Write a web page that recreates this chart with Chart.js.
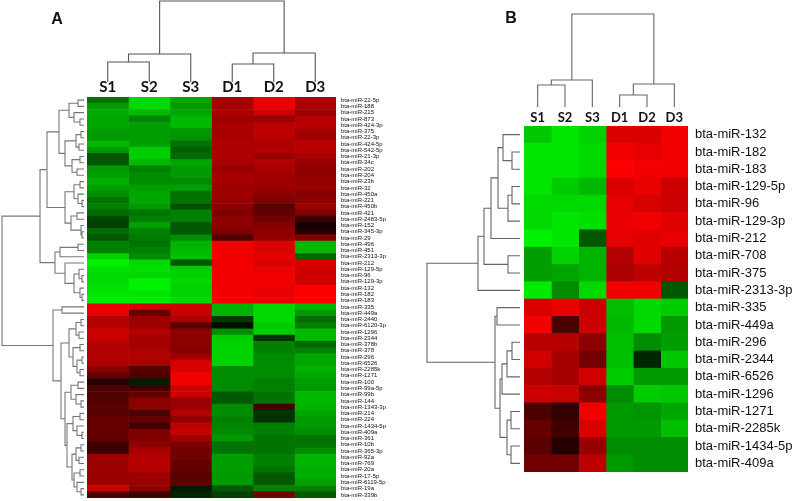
<!DOCTYPE html>
<html><head><meta charset="utf-8">
<script src="https://cdn.jsdelivr.net/npm/chart.js@4/dist/chart.umd.min.js"></script>
<style>
html,body{margin:0;padding:0;background:#fff;}
#wrap{position:relative;width:792px;height:501px;overflow:hidden;background:#fff;}
canvas{position:absolute;top:0;}
#ca{left:0;} #cb{left:400px;}
.pl{position:absolute;font:bold 16px "Liberation Sans",Arial,sans-serif;color:#111;transform:translate(-50%,-50%);}
</style></head><body>
<div id="wrap">
<canvas id="ca" width="400" height="501"></canvas>
<canvas id="cb" width="392" height="501"></canvas>
<div class="pl" style="left:57px;top:19px">A</div>
<div class="pl" style="left:511px;top:18px">B</div>
</div>
<script>
// ---------- DATA ----------
const samples = ['S1','S2','S3','D1','D2','D3'];

const rowsA = ['bta-miR-22-5p','bta-miR-188','bta-miR-215','bta-miR-873','bta-miR-424-3p','bta-miR-375','bta-miR-22-3p','bta-miR-424-5p','bta-miR-542-5p','bta-miR-21-3p',
'bta-miR-34c','bta-miR-202','bta-miR-204','bta-miR-23b','bta-miR-32','bta-miR-450a','bta-miR-221','bta-miR-450b','bta-miR-421','bta-miR-2483-5p',
'bta-miR-152','bta-miR-345-3p','bta-miR-29','bta-miR-496','bta-miR-451','bta-miR-2313-3p','bta-miR-212','bta-miR-129-5p','bta-miR-96','bta-miR-129-3p',
'bta-miR-132','bta-miR-182','bta-miR-183','bta-miR-335','bta-miR-449a','bta-miR-2440','bta-miR-6120-3p','bta-miR-1296','bta-miR-2344','bta-miR-378b',
'bta-miR-378','bta-miR-296','bta-miR-6526','bta-miR-2285k','bta-miR-1271','bta-miR-100','bta-miR-99a-5p','bta-miR-99b','bta-miR-144','bta-miR-1343-3p',
'bta-miR-214','bta-miR-224','bta-miR-1434-5p','bta-miR-409a','bta-miR-361','bta-miR-10b','bta-miR-365-3p','bta-miR-92a','bta-miR-769','bta-miR-20a',
'bta-miR-17-5p','bta-miR-6119-5p','bta-miR-19a','bta-miR-339b'];

// Panel A: scaled expression per sample (negative = green, positive = red)
const aS1 = [-0.45,-0.62,-0.68,-0.65,-0.65,-0.62,-0.6,-0.72,-0.6,-0.32,
 -0.35,-0.6,-0.62,-0.7,-0.62,-0.55,-0.45,-0.5,-0.42,-0.28,
 -0.25,-0.42,-0.35,-0.5,-0.5,-0.82,-0.95,-0.88,-0.85,-0.85,
 -0.88,-0.9,-0.92,0.92,0.92,0.7,0.72,0.78,0.78,0.7,
 0.7,0.7,0.68,0.55,0.4,0.15,0.3,0.3,0.32,0.35,
 0.35,0.4,0.4,0.4,0.4,0.25,0.25,0.62,0.6,0.62,
 0.6,0.62,0.8,0.3];
const aS2 = [-0.85,-0.85,-0.73,-0.52,-0.62,-0.62,-0.62,-0.62,-0.8,-0.8,
 -0.72,-0.5,-0.55,-0.55,-0.62,-0.65,-0.65,-0.6,-0.45,-0.5,
 -0.62,-0.5,-0.48,-0.45,-0.5,-0.55,-0.85,-0.88,-0.85,-0.95,
 -0.95,-0.9,-0.92,0.82,0.4,0.6,0.62,0.7,0.65,0.65,
 0.68,0.7,0.65,0.35,0.3,-0.12,0.25,0.4,0.55,0.55,
 0.3,0.4,0.25,0.5,0.5,0.55,0.65,0.7,0.72,0.7,
 0.62,0.6,0.55,0.25];
const aS3 = [-0.65,-0.6,-0.65,-0.72,-0.72,-0.6,-0.58,-0.45,-0.38,-0.42,
 -0.65,-0.6,-0.6,-0.55,-0.62,-0.45,-0.45,-0.32,-0.5,-0.5,
 -0.35,-0.35,-0.55,-0.7,-0.72,-0.75,-0.35,-0.8,-0.82,-0.85,
 -0.82,-0.82,-0.85,0.8,0.78,0.68,0.35,0.55,0.55,0.55,
 0.52,0.62,0.85,0.85,0.95,0.95,0.8,0.8,0.6,0.62,
 0.7,0.55,0.75,0.78,0.62,0.5,0.45,0.45,0.4,0.4,
 0.35,0.35,-0.1,-0.15];
const aD1 = [0.65,0.65,0.68,0.62,0.65,0.66,0.66,0.68,0.68,0.68,
 0.66,0.6,0.65,0.66,0.62,0.62,0.6,0.55,0.5,0.55,
 0.55,0.5,0.3,0.95,0.95,0.95,0.95,0.95,0.95,0.95,
 0.95,0.95,0.95,-0.7,-0.7,-0.22,-0.05,-0.55,-0.8,-0.82,
 -0.82,-0.82,-0.82,-0.55,-0.55,-0.55,-0.55,-0.35,-0.35,-0.55,
 -0.55,-0.5,-0.52,-0.55,-0.6,-0.45,-0.45,-0.62,-0.62,-0.62,
 -0.6,-0.6,-0.35,-0.25];
const aD2 = [0.92,0.92,0.8,0.6,0.72,0.75,0.72,0.68,0.7,0.6,
 0.7,0.66,0.62,0.62,0.6,0.55,0.5,0.35,0.38,0.45,
 0.52,0.55,0.58,0.85,0.85,0.9,0.85,0.92,0.95,0.95,
 0.92,0.9,0.92,-0.85,-0.85,-0.85,-0.8,-0.8,-0.2,-0.5,
 -0.5,-0.55,-0.55,-0.55,-0.55,-0.5,-0.5,-0.45,-0.45,0.25,
 -0.2,-0.2,-0.5,-0.5,-0.45,-0.45,-0.45,-0.5,-0.5,-0.45,
 -0.35,-0.35,-0.5,0.45];
const aD3 = [0.7,0.65,0.6,0.7,0.72,0.65,0.62,0.72,0.72,0.66,
 0.6,0.55,0.55,0.58,0.6,0.52,0.55,0.6,0.5,0.22,
 0.1,0.15,0.5,-0.72,-0.72,-0.4,0.85,0.82,0.8,0.82,
 0.98,0.98,0.98,-0.72,-0.6,-0.42,-0.5,-0.72,-0.72,-0.4,
 -0.5,-0.65,-0.65,-0.7,-0.65,-0.62,-0.6,-0.72,-0.72,-0.7,
 -0.65,-0.6,-0.6,-0.55,-0.45,-0.45,-0.55,-0.7,-0.7,-0.68,
 -0.68,-0.62,-0.5,-0.35];

// Panel A row dendrogram: [height, left, right], leaves = row index
const treeA1 = [25, [15, [6,0,1], [10, 2, [4,3,4]]], [19, [8,[3,5,6],[5,7,8]], [12,[4,9,10],[7,11,12]]]];
const treeA2 = [19, [10,[4,13,14],[6,15,[2,16,17]]], [13,[7,18,19],[3,20,[2,21,22]]]];
const treeAB = [29, [24,[6,23,24],25], [19, 26, [10,[5,27,[2,28,29]],[4,30,[2,31,32]]]]];
const treeAD1 = [22, 33, 34];
const treeAD2a = [15, [8,[3,35,36],[5,37,38]], [11,[4,39,40],[7,[2,41,42],[4,43,44]]]];
const treeAD2b = [19, [13,[6,45,46],[8,47,[3,48,49]]], [17,[11,[4,50,51],[7,52,[2,53,54]]],[12,[8,[3,55,56],[5,57,58]],[10,[4,59,60],[7,61,[3,62,63]]]]]];
const rowTreeA = [82, [44, [37, treeA1, treeA2], treeAB], [31, treeAD1, [23, treeAD2a, treeAD2b]]];
const colTreeA = [81, [28, [20, 0, 1], 2], [29, [18, 3, 4], 5]];

// Panel B
const rowsB = ['bta-miR-132','bta-miR-182','bta-miR-183','bta-miR-129-5p','bta-miR-96','bta-miR-129-3p','bta-miR-212','bta-miR-708','bta-miR-375','bta-miR-2313-3p',
'bta-miR-335','bta-miR-449a','bta-miR-296','bta-miR-2344','bta-miR-6526','bta-miR-1296','bta-miR-1271','bta-miR-2285k','bta-miR-1434-5p','bta-miR-409a'];
const bS1 = [-0.78,-0.9,-0.9,-0.9,-0.85,-0.85,-0.95,-0.62,-0.62,-0.92, 0.85,0.95,0.72,0.82,0.7,0.8,0.3,0.4,0.35,0.45];
const bS2 = [-0.9,-0.9,-0.9,-0.8,-0.85,-0.9,-0.9,-0.82,-0.65,-0.55, 0.92,0.3,0.72,0.65,0.65,0.78,0.2,0.25,0.15,0.45];
const bS3 = [-0.82,-0.85,-0.85,-0.72,-0.85,-0.88,-0.35,-0.7,-0.7,-0.85, 0.8,0.8,0.55,0.45,0.82,0.55,0.95,0.85,0.6,0.75];
const bD1 = [0.85,0.95,0.98,0.85,0.9,0.92,0.9,0.7,0.68,0.95, -0.75,-0.72,-0.75,-0.75,-0.8,-0.55,-0.6,-0.6,-0.55,-0.6];
const bD2 = [0.85,0.9,0.95,0.92,0.85,0.95,0.88,0.88,0.75,0.95, -0.85,-0.85,-0.55,-0.15,-0.6,-0.8,-0.58,-0.6,-0.55,-0.55];
const bD3 = [0.95,0.95,0.95,0.8,0.8,0.88,0.9,0.72,0.7,-0.35, -0.8,-0.6,-0.62,-0.78,-0.6,-0.78,-0.65,-0.75,-0.55,-0.55];

const treeBtop = [42, [36, [29, [22, [17, 0, [8,1,2]], [12, [8,3,4], 5]], 6], [12,7,8]], 9];
const treeBbot = [25, [23,10,11], [20, [18, [13, [8,12,13], 14], 15], [13, [9,16,17], [9,18,19]]]];
const rowTreeB = [93, treeBtop, treeBbot];
const colTreeB = [93, [27, [22, 0, 1], 2], [23, [12, 3, 4], 5]];

// ---------- RENDER ----------
function heat(v){
  return v >= 0 ? 'rgb(' + Math.round(255*v) + ',0,0)' : 'rgb(0,' + Math.round(-255*v) + ',0)';
}

function dendroPoints(tree, leafPos, toPt){
  const pts = [];
  (function walk(node){
    if (typeof node === 'number') return {p: leafPos(node), h: 0};
    const a = walk(node[1]), b = walk(node[2]), h = node[0];
    pts.push(toPt(a.h, a.p), toPt(h, a.p), toPt(h, b.p), toPt(b.h, b.p), {x: null, y: null});
    return {p: (a.p + b.p) / 2, h: h};
  })(tree);
  return pts;
}

function noPad(s){ s.paddingTop = 0; s.paddingBottom = 0; s.paddingLeft = 0; s.paddingRight = 0; }

function makePanel(id, o){
  const datasets = [];
  o.cols.forEach((vals, j) => {
    datasets.push({
      type: 'bar', indexAxis: 'y', xAxisID: 'x', yAxisID: 'y',
      data: vals.map(() => [j, j + 1]),
      backgroundColor: vals.map(heat),
      borderWidth: 0, grouped: false, barPercentage: 1, categoryPercentage: 1
    });
  });
  const rowPts = dendroPoints(o.rowTree, i => i,
    (h, p) => ({x: -(o.rowGap + h * o.rowK), y: p}));
  const colPts = dendroPoints(o.colTree, j => j + 0.5,
    (h, p) => ({x: p, y: -0.5 - (o.colGap + h * o.colK)}));
  [[rowPts, o.rowLine], [colPts, o.colLine]].forEach(([pts, col]) => {
    datasets.push({
      type: 'line', indexAxis: 'x', xAxisID: 'x', yAxisID: 'yd', data: pts,
      borderColor: col, borderWidth: 1.1, pointRadius: 0, fill: false,
      spanGaps: false, clip: false, tension: 0
    });
  });
  new Chart(document.getElementById(id), {
    type: 'bar',
    data: {labels: o.rows, datasets},
    options: {
      responsive: false, animation: false, devicePixelRatio: 1, events: [],
      layout: {padding: o.pad},
      plugins: {legend: {display: false}, tooltip: {enabled: false}, title: {display: false}},
      scales: {
        x: {type: 'linear', axis: 'x', min: 0, max: 6, offset: false, grace: 0, display: false},
        xt: {type: 'category', axis: 'x', position: 'top', labels: samples, offset: true,
             grid: {display: false, drawTicks: false}, border: {display: false},
             ticks: {autoSkip: false, maxRotation: 0, padding: o.colPad, color: '#111',
                     font: {family: 'Lato', weight: 'bold', size: o.colFont}},
             afterFit: s => { s.height = 20; noPad(s); }},
        y: {type: 'category', axis: 'y', position: 'right', labels: o.rows, offset: true,
            grid: {display: false, drawTicks: false}, border: {display: false},
            ticks: {autoSkip: false, padding: o.rowPad, color: '#111',
                    font: {family: 'Liberation Sans', size: o.rowFont}},
            afterFit: s => { s.width = o.axisW; noPad(s); }},
        yd: {type: 'linear', axis: 'y', min: -0.5, max: o.rows.length - 0.5, reverse: true,
             offset: false, grace: 0, display: false}
      }
    }
  });
}

makePanel('ca', {
  rows: rowsA, cols: [aS1, aS2, aS3, aD1, aD2, aD3],
  rowTree: rowTreeA, colTree: colTreeA,
  rowGap: 0.072, rowK: 1/41.5, colGap: 2.4, colK: 1/6.27,
  rowLine: '#777', colLine: '#555',
  pad: {left: 87, top: 77, right: 0, bottom: 3},
  axisW: 64, rowFont: 6, rowPad: 5, colFont: 15, colPad: 1
});
makePanel('cb', {
  rows: rowsB, cols: [bS1, bS2, bS3, bD1, bD2, bD3],
  rowTree: rowTreeB, colTree: colTreeB,
  rowGap: 0.146, rowK: 1/27.33, colGap: 1.1, colK: 1/17.3,
  rowLine: '#666', colLine: '#666',
  pad: {left: 124, top: 106, right: 0, bottom: 29},
  axisW: 104, rowFont: 13, rowPad: 7, colFont: 13, colPad: 0
});
</script>
</body></html>
